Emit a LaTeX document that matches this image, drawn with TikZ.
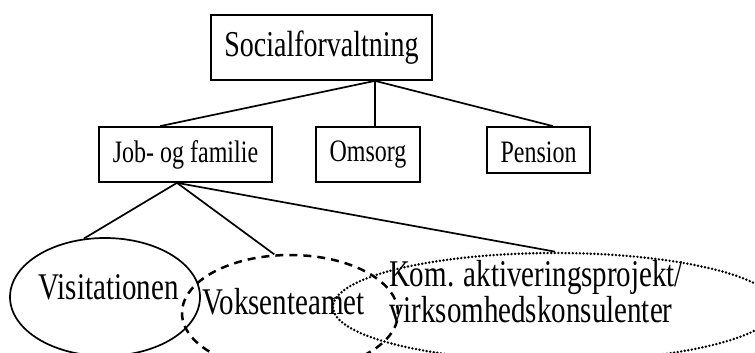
\documentclass[tikz,border=0pt]{standalone}
\usepackage{fontspec}
\usepackage{graphicx}
\setmainfont{Liberation Serif}
\usetikzlibrary{shapes.geometric}
\newcommand{\vst}[1]{\scalebox{1}[1.3]{#1}}
\begin{document}
\begin{tikzpicture}[x=1pt,y=-1pt,
  box/.style={draw, line width=1.7pt, rectangle, inner sep=0pt},
  conn/.style={line width=1.7pt},
  oval/.style={ellipse, draw, inner sep=0pt},
  solidoval/.style={oval, line width=1.7pt},
  dashoval/.style={oval, line width=2.5pt, dash pattern=on 8pt off 6pt},
  dotoval/.style={oval, line width=2.7pt, line cap=round, dash pattern=on 0pt off 3.6pt},
  big/.style={font=\fontsize{28}{34}\selectfont},
  mid/.style={font=\fontsize{24}{29}\selectfont},
  low/.style={font=\fontsize{29}{26}\selectfont},
]
\clip (0,0) rectangle (755,353);
\useasboundingbox (0,0) rectangle (755,353);
\fill[white] (0,0) rectangle (755,353);

\node[box,big,minimum width=221pt,minimum height=65pt] (soc) at (321.5,47.5) {\vst{Socialforvaltning}};
\node[box,mid,minimum width=173pt,minimum height=55pt] (job) at (185.5,154.5) {\vst{Job- og familie}};
\node[box,mid,minimum width=104pt,minimum height=55pt] (oms) at (368,154.5) {\vst{Omsorg}};
\node[box,mid,minimum width=103pt,minimum height=46pt,text height=26pt,text depth=2pt] (pen) at (538.5,150) {\vst{Pension}};

\node[solidoval,minimum width=190pt,minimum height=118pt,
  label={[low,xshift=3.5pt,yshift=9.9pt]center:\vst{Visitationen}}] (vis) at (105,297) {};
\node[dashoval,minimum width=216pt,minimum height=116pt,
  label={[low,xshift=-6.5pt,yshift=10.9pt]center:\vst{Voksenteamet}}] (vok) at (290,313) {};
\node[dotoval,minimum width=444pt,minimum height=108pt,
  label={[low,xshift=-19pt,yshift=10.5pt]center:{\vst{\begin{tabular}{@{}l@{}}Kom. aktiveringsprojekt/\\virksomhedskonsulenter\end{tabular}}}}] (kom) at (555,307) {};

\coordinate (sb) at ([xshift=53.5pt]soc.south);
\draw[conn] (sb) -- ([xshift=-25.5pt]job.north);
\draw[conn] (sb) -- ([xshift=7pt]oms.north);
\draw[conn] (sb) -- ([xshift=14.5pt]pen.north);

\coordinate (jb) at ([xshift=-8.5pt]job.south);
\draw[conn] (jb) -- (vis.110);
\draw[conn] (jb) -- (vok.105);
\draw[conn] (jb) -- (kom.north);
\end{tikzpicture}
\end{document}
